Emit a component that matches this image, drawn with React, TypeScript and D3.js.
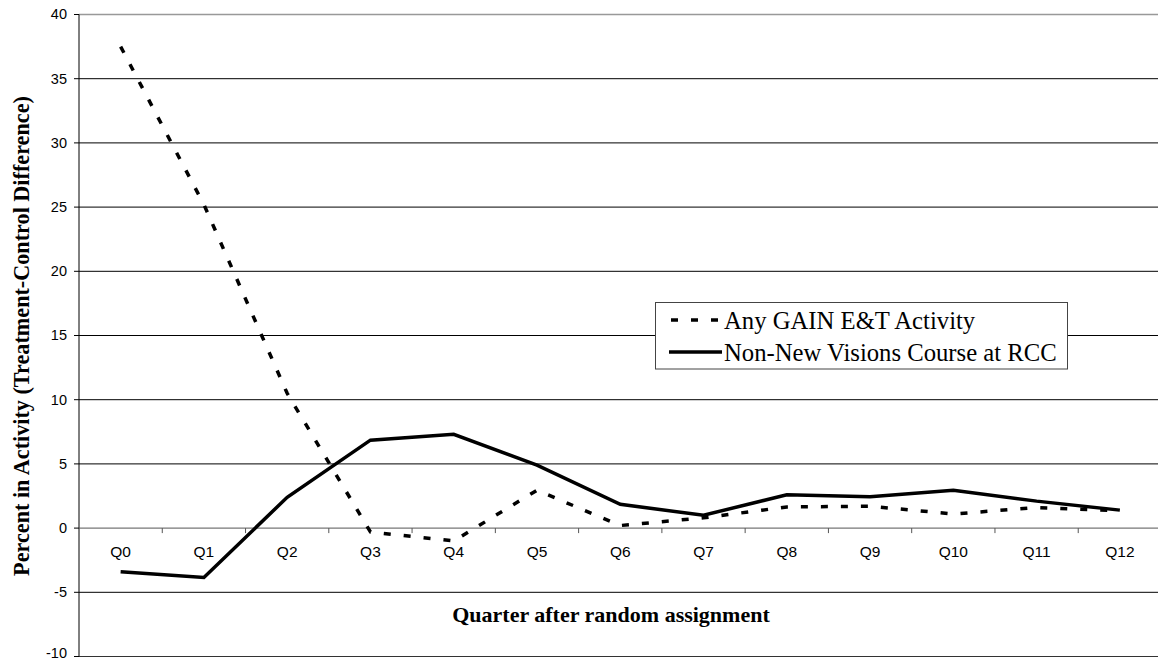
import React from "react";
import * as d3 from "d3";

const categories = ["Q0","Q1","Q2","Q3","Q4","Q5","Q6","Q7","Q8","Q9","Q10","Q11","Q12"];
const anyGain = [37.5, 25.2, 10.5, -0.3, -1.0, 2.95, 0.2, 0.8, 1.65, 1.7, 1.1, 1.6, 1.35];
const nonNewVisions = [-3.4, -3.85, 2.4, 6.85, 7.3, 4.9, 1.85, 1.0, 2.6, 2.45, 2.95, 2.1, 1.4];
const yTicks = [-10, -5, 0, 5, 10, 15, 20, 25, 30, 35, 40];
const seriesNames = ["Any GAIN E&T Activity", "Non-New Visions Course at RCC"];

const W = 1158, H = 662;
const left = 79, right = 1161.5, top = 14.5, bottom = 656.5;

export default function App() {
  const x = d3.scaleBand<string>().domain(categories).range([left, right]).padding(0);
  const y = d3.scaleLinear().domain([-10, 40]).range([bottom, top]);
  const cx = (c: string) => (x(c) as number) + x.bandwidth() / 2;
  const line = d3.line<number>().x((_, i) => cx(categories[i])).y((d) => y(d));
  const tickFont = "'Liberation Sans', Arial, sans-serif";
  const serif = "'Liberation Serif', 'Times New Roman', serif";
  const y0 = y(0);
  const dash = "7 13";
  return (
    <svg width={W} height={H} style={{ position: "absolute", left: 0, top: 0, background: "#fff" }}>
      {/* gridlines */}
      {yTicks.filter((t) => t !== 0 && t !== 40 && t !== -10).map((t) => (
        <line key={t} x1={left} x2={W} y1={y(t)} y2={y(t)} stroke="#000" strokeWidth={1} />
      ))}
      {/* top border */}
      <line x1={left} x2={W} y1={y(40)} y2={y(40)} stroke="#999" strokeWidth={1.5} />
      {/* bottom border */}
      <line x1={left} x2={W} y1={y(-10)} y2={y(-10)} stroke="#333" strokeWidth={1} />
      {/* left axis */}
      <line x1={left} x2={left} y1={top} y2={bottom} stroke="#000" strokeWidth={1} />
      {yTicks.map((t) => (
        <g key={t}>
          <line x1={left - 5} x2={left} y1={y(t)} y2={y(t)} stroke="#000" />
          <text x={67} y={Math.min(y(t) + 4.8, 657.5)} textAnchor="end" fontFamily={tickFont} fontSize={14.5}>{t}</text>
        </g>
      ))}
      {/* zero axis */}
      <line x1={left} x2={W} y1={y0} y2={y0} stroke="#555" strokeWidth={1} />
      {categories.map((c, i) => (
        <g key={c}>
          {i > 0 && <line x1={x(c)} x2={x(c)} y1={y0} y2={y0 + 5} stroke="#555" />}
          <text x={cx(c)} y={557} textAnchor="middle" fontFamily={tickFont} fontSize={15.5}>{c}</text>
        </g>
      ))}
      {/* series */}
      <path d={line(anyGain) || ""} fill="none" stroke="#000" strokeWidth={3.5} strokeDasharray={dash} />
      <path d={line(nonNewVisions) || ""} fill="none" stroke="#000" strokeWidth={3.5} />
      {/* titles */}
      <text x={611} y={622} textAnchor="middle" fontFamily={serif} fontWeight="bold" fontSize={22}>Quarter after random assignment</text>
      <text transform={`translate(29,336) rotate(-90)`} textAnchor="middle" fontFamily={serif} fontWeight="bold" fontSize={22.2}>Percent in Activity (Treatment-Control Difference)</text>
      {/* legend */}
      <rect x={655.5} y={302.5} width={412} height={66.5} fill="#fff" stroke="#444" strokeWidth={1} />
      <line x1={671} x2={721} y1={320} y2={320} stroke="#000" strokeWidth={3.5} strokeDasharray={dash} />
      <line x1={669} x2={722} y1={352} y2={352} stroke="#000" strokeWidth={3.5} />
      <text x={724} y={328.5} fontFamily={serif} fontSize={24.7}>{seriesNames[0]}</text>
      <text x={724} y={360.5} fontFamily={serif} fontSize={24.7}>{seriesNames[1]}</text>
    </svg>
  );
}
